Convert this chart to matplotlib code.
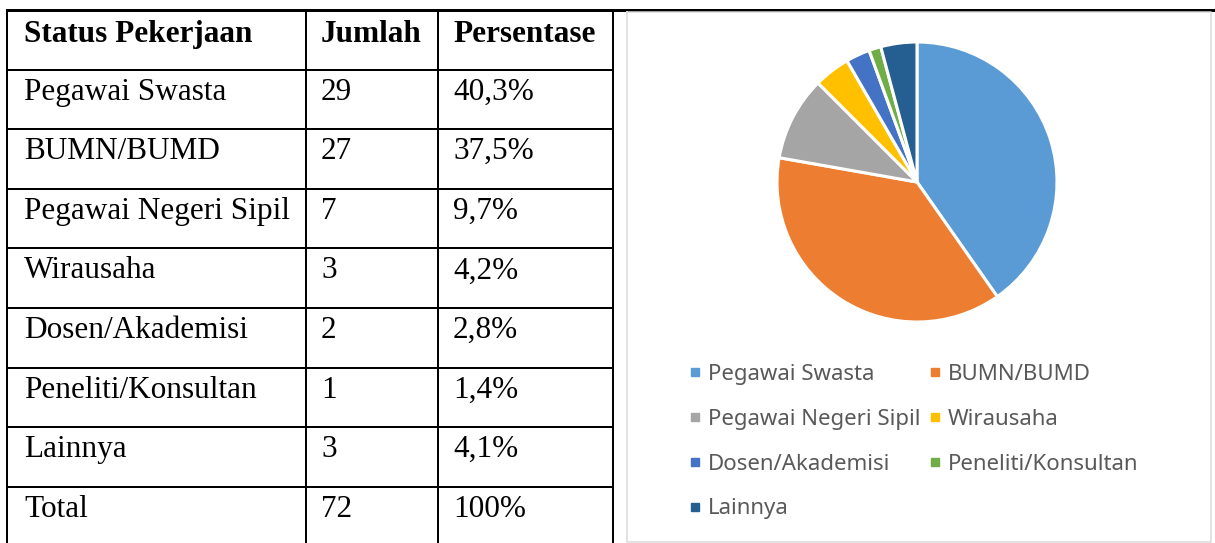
import matplotlib.pyplot as plt
from matplotlib.lines import Line2D

# data
categories = ["Pegawai Swasta", "BUMN/BUMD", "Pegawai Negeri Sipil", "Wirausaha",
              "Dosen/Akademisi", "Peneliti/Konsultan", "Lainnya"]
counts = [29, 27, 7, 3, 2, 1, 3]
percents = ["40,3%", "37,5%", "9,7%", "4,2%", "2,8%", "1,4%", "4,1%"]
total_label = ["Total", "72", "100%"]
headers = ["Status Pekerjaan", "Jumlah", "Persentase"]
colors = ["#5B9BD5", "#ED7D31", "#A5A5A5", "#FFC000", "#4472C4", "#70AD47", "#255E91"]

W, H = 1215, 543
fig = plt.figure(figsize=(W / 100, H / 100), dpi=100)

# full-figure axes in pixel coordinates for the table
base = fig.add_axes([0, 0, 1, 1])
base.set_xlim(0, W)
base.set_ylim(H, 0)
base.axis('off')

col_x = [7, 306, 438, 613]
row_h = 59.6
top = 10
n_rows = len(categories) + 2
row_y = [top + row_h * i for i in range(n_rows + 1)]

px = 0.72  # points per pixel
# top rule runs across the whole width
base.plot([col_x[0], W], [top, top], color='black', lw=3 * px, solid_capstyle='butt')
for y in row_y[1:]:
    base.plot([col_x[0], col_x[-1]], [y, y], color='black', lw=2 * px)
for x in col_x:
    base.plot([x, x], [top, H + 5], color='black', lw=2 * px)

text_x = [24, 321, 453]
serif = 'Liberation Serif'
fs = 22.5
for j, h in enumerate(headers):
    base.text(text_x[j], row_y[0] + 32, h, fontsize=fs, fontweight='bold',
              family=serif, va='baseline', ha='left')

rows = [[c, str(n), p] for c, n, p in zip(categories, counts, percents)] + [total_label]
for i, r in enumerate(rows):
    for j, v in enumerate(r):
        base.text(text_x[j], row_y[i + 1] + 30, v, fontsize=fs, family=serif,
                  va='baseline', ha='left')

# chart box
bx0, by0, bx1, by1 = 627, 12, 1211, 542
base.plot([bx0, bx1, bx1, bx0, bx0], [by0, by0, by1, by1, by0], color='#D9D9D9', lw=1.5 * px)

# pie
cx, cy, r = 917, 182, 140
pie_ax = fig.add_axes([(cx - r) / W, (H - cy - r) / H, 2 * r / W, 2 * r / H])
wedges, _ = pie_ax.pie(counts, colors=colors, startangle=90, counterclock=False,
                       wedgeprops=dict(edgecolor='white', linewidth=2.2))
pie_ax.set_xlim(-1, 1)
pie_ax.set_ylim(-1, 1)
pie_ax.set_aspect('equal')

# legend, row-major order like the original
order = [0, 2, 4, 6, 1, 3, 5]
handles = [Line2D([], [], marker='s', linestyle='none', markersize=5.5,
                  markerfacecolor=colors[i], markeredgecolor=colors[i]) for i in order]
labels = [categories[i] for i in order]
leg = base.legend(handles, labels, ncol=2, frameon=False,
                  loc='upper left', bbox_to_anchor=(689.5 / W, 1 - 364 / H),
                  bbox_transform=fig.transFigure,
                  prop={'family': 'Noto Sans', 'size': 16},
                  labelspacing=1.07, handlelength=0.5, handletextpad=0.34,
                  columnspacing=0.4, borderaxespad=0, borderpad=0)
for t in leg.get_texts():
    t.set_color('#595959')

fig.savefig('out.png', dpi=100)
